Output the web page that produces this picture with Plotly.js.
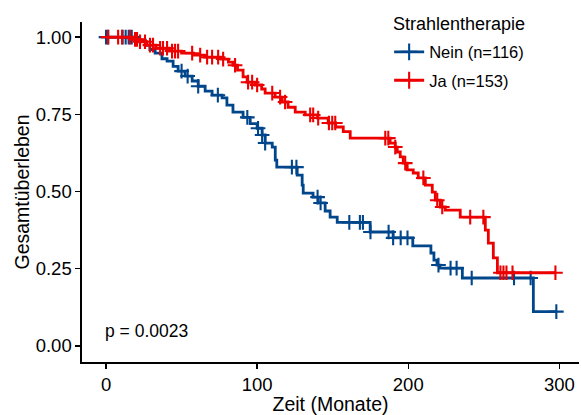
<!DOCTYPE html>
<html>
<head>
<meta charset="utf-8">
<script src="https://cdn.plot.ly/plotly-3.0.1.min.js"></script>
<style>html,body{margin:0;padding:0;background:#fff;}#chart{width:581px;height:415px;}</style>
</head>
<body>
<div id="chart"></div>
<script>
// Group labels
const legendTitle = "Strahlentherapie";
const groupLabels = ["Nein (n=116)", "Ja (n=153)"];
const groupColors = ["#00468B", "#ED0000"];

// Kaplan-Meier step curve "Nein" (time in months, survival after step)
const neinTimes = [0, 19, 26, 29, 32.5, 37, 40.4, 44.4, 47.7, 52.3, 57, 61, 65.6, 70.2, 76.8, 80, 84, 90.7, 95.4, 100, 103.3, 105.3, 110, 112, 113, 126.5, 129.8, 130.5, 137, 140.4, 145, 148.3, 153, 174.8, 190, 203, 215, 217, 219, 221, 235.8, 282.8, 298];
const neinSurv  = [1.0, 0.99, 0.974, 0.96, 0.948, 0.93, 0.922, 0.905, 0.89, 0.874, 0.858, 0.841, 0.825, 0.812, 0.803, 0.78, 0.757, 0.74, 0.72, 0.705, 0.683, 0.657, 0.644, 0.602, 0.579, 0.553, 0.521, 0.495, 0.482, 0.463, 0.437, 0.417, 0.40, 0.369, 0.35, 0.324, 0.301, 0.278, 0.262, 0.252, 0.22, 0.111, 0.111];
const neinCensor = [0, 1.5, 11, 13, 15, 17, 50, 54, 61, 74, 93.5, 100.6, 103.3, 105.3, 123, 126, 140, 142, 161, 168, 170, 175, 187, 190, 195, 199.5, 220, 228, 232, 242, 270, 281, 298];

// Kaplan-Meier step curve "Ja"
const jaTimes = [0, 18, 22, 27, 33, 42, 50, 58, 65, 76, 81, 84, 87, 90.7, 93.4, 98.7, 103, 105.3, 111.9, 116.6, 120.5, 125.2, 131.8, 140, 147, 152, 157, 161.6, 188, 191.4, 192.7, 194.7, 196.7, 199.3, 203.3, 206.6, 211.3, 215.9, 217.9, 221.2, 224.5, 234.4, 251, 253, 256.3, 259, 297.4];
const jaSurv  = [1.0, 0.993, 0.985, 0.974, 0.964, 0.955, 0.948, 0.942, 0.935, 0.929, 0.919, 0.909, 0.893, 0.871, 0.854, 0.845, 0.832, 0.819, 0.806, 0.79, 0.773, 0.757, 0.748, 0.738, 0.722, 0.709, 0.694, 0.673, 0.657, 0.644, 0.628, 0.612, 0.592, 0.57, 0.56, 0.544, 0.521, 0.498, 0.472, 0.45, 0.44, 0.417, 0.375, 0.333, 0.285, 0.237, 0.237];
const jaCensor = [1.3, 8, 10.6, 15.9, 19.2, 20.5, 22.5, 25.8, 29.1, 31.1, 35.8, 37.7, 40.4, 43.7, 45.7, 47.7, 57, 62.3, 66.9, 70.2, 74.2, 77.5, 85.4, 94, 96.7, 100, 110, 115.2, 118.5, 135.1, 137.1, 140.4, 147.5, 149.7, 151.7, 184.8, 186.8, 191.4, 198, 210, 219.2, 222.5, 241, 249.7, 261, 263, 265, 269, 297.4];

const pText = "p = 0.0023";
const xTicks = [0, 100, 200, 300];
const yTicks = [0, 0.25, 0.5, 0.75, 1.0];

function survAt(times, surv, t) {
  let v = surv[0];
  for (let i = 0; i < times.length; i++) { if (times[i] <= t) v = surv[i]; else break; }
  return v;
}

const font = "Liberation Sans, Arial, Helvetica, sans-serif";
const groups = [
  {t: neinTimes, s: neinSurv, c: neinCensor},
  {t: jaTimes, s: jaSurv, c: jaCensor}
];
const traces = [];
groups.forEach((g, i) => {
  traces.push({x: g.t, y: g.s, mode: "lines", line: {shape: "hv", color: groupColors[i], width: 2.8}, showlegend: false, hoverinfo: "skip"});
  traces.push({x: g.c, y: g.c.map(t => survAt(g.t, g.s, t)), mode: "markers",
    marker: {symbol: "cross-thin", size: 10.5, line: {width: 2.1, color: groupColors[i]}, color: groupColors[i]}, showlegend: false, hoverinfo: "skip"});
});
groups.forEach((g, i) => {
  traces.push({x: [null], y: [null], mode: "lines+markers", name: groupLabels[i], legendgroup: "g" + i,
    line: {color: groupColors[i], width: 2.8}, marker: {symbol: "cross-thin", size: 12, line: {width: 2.1, color: groupColors[i]}, color: groupColors[i]}});
});

const plotW = 581 - 82 - 2, plotH = 415 - 22 - 53;
const layout = {
  width: 581, height: 415,
  margin: {l: 82, r: 2, t: 22, b: 53},
  paper_bgcolor: "#fff", plot_bgcolor: "#fff",
  font: {family: font, color: "#000"},
  xaxis: {range: [-15.9, 313], tickvals: xTicks, ticktext: xTicks.map(String), showgrid: false, zeroline: false,
    showline: true, linecolor: "#000", linewidth: 1.6, ticks: "outside", ticklen: 5, tickwidth: 1.3, tickcolor: "#000",
    tickfont: {size: 18.5, family: font, color: "#000"},
    title: {text: "Zeit (Monate)", font: {size: 19.5, family: font, color: "#000"}, standoff: 0}},
  yaxis: {range: [-0.052, 1.049], tickvals: yTicks, ticktext: yTicks.map(v => v.toFixed(2)), showgrid: false, zeroline: false,
    showline: true, linecolor: "#000", linewidth: 1.6, ticks: "outside", ticklen: 5, tickwidth: 1.3, tickcolor: "#000",
    tickfont: {size: 18.5, family: font, color: "#000"},
    title: {text: "Gesamtüberleben", font: {size: 19.5, family: font, color: "#000"}, standoff: 1}},
  legend: {x: 0.618, y: 0.963, xanchor: "left", yanchor: "top", bgcolor: "rgba(0,0,0,0)",
    font: {size: 16.5, family: font, color: "#000"}, traceorder: "grouped", tracegroupgap: 4, itemwidth: 30},
  annotations: [
    {x: 0, y: 0.05, xref: "x", yref: "y", text: pText, showarrow: false, xanchor: "left", yanchor: "middle", xshift: -3,
      font: {size: 17.5, family: font, color: "#000"}},
    {x: (392 - 82) / plotW, y: 1 - (24 - 22) / plotH, xref: "paper", yref: "paper", text: legendTitle, showarrow: false,
      xanchor: "left", yanchor: "middle", xshift: -1, font: {size: 18, family: font, color: "#000"}}
  ]
};
Plotly.newPlot("chart", traces, layout, {displayModeBar: false, staticPlot: true});
</script>
</body>
</html>
